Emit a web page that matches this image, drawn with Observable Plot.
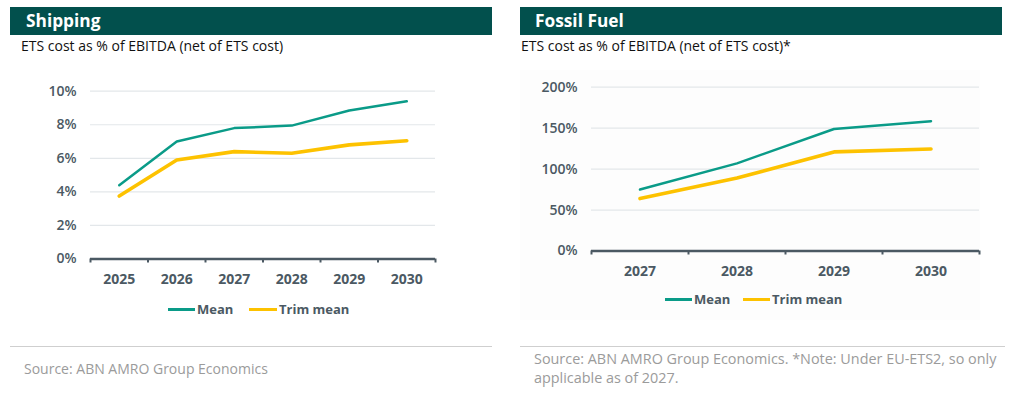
<!DOCTYPE html>
<html>
<head>
<meta charset="utf-8">
<script src="https://cdn.jsdelivr.net/npm/d3@7"></script>
<script src="https://cdn.jsdelivr.net/npm/@observablehq/plot@0.6"></script>
<style>
  html, body { margin: 0; padding: 0; background: #fff; }
  body { width: 1013px; height: 394px; position: relative; overflow: hidden; font-family: "Open Sans", "Noto Sans", sans-serif; }
  .bar { position: absolute; top: 7px; height: 28px; background: #02504d; color: #fff; font-weight: 700; font-size: 17.3px; line-height: 28px; box-sizing: border-box; }
  .sub { position: absolute; top: 37px; font-size: 14px; color: #111; line-height: 18px; }
  .chart { position: absolute; top: 60px; }
  .sep { position: absolute; top: 346px; height: 1px; background: #cfcfcf; }
  .src { position: absolute; font-size: 14px; color: #9b9b9b; line-height: 19px; white-space: nowrap; }
  .leg { position: absolute; font-size: 13px; font-weight: 700; color: #4b5963; line-height: 16px; white-space: nowrap; }
  .sw { position: absolute; height: 3px; }
  .bg { position: absolute; left: 520px; top: 70px; width: 460px; height: 250px; background: #fdfdfd; }
</style>
</head>
<body>
<div class="bar" style="left:10px;width:482px;padding-left:16px;">Shipping</div>
<div class="sub" style="left:21px;">ETS cost as % of EBITDA (net of ETS cost)</div>
<div class="bar" style="left:520px;width:482px;padding-left:15px;">Fossil Fuel</div>
<div class="sub" style="left:521px;">ETS cost as % of EBITDA (net of ETS cost)*</div>
<div class="bg"></div>
<div id="left" class="chart" style="left:0px;"></div>
<div id="right" class="chart" style="left:510px;"></div>

<div class="sw" style="left:168px;top:308px;width:27px;background:#0a9b88;"></div>
<div class="leg" style="left:197px;top:301px;">Mean</div>
<div class="sw" style="left:249px;top:308px;width:28px;background:#fdc200;"></div>
<div class="leg" style="left:279px;top:301px;">Trim mean</div>

<div class="sw" style="left:665px;top:298px;width:27px;background:#0a9b88;"></div>
<div class="leg" style="left:694px;top:291px;">Mean</div>
<div class="sw" style="left:743px;top:298px;width:27px;background:#fdc200;"></div>
<div class="leg" style="left:772px;top:291px;">Trim mean</div>

<div class="sep" style="left:10px;width:482px;"></div>
<div class="sep" style="left:520px;width:485px;"></div>
<div class="src" style="left:24px;top:359px;">Source: ABN AMRO Group Economics</div>
<div class="src" style="left:534px;top:349px;font-size:14.4px;">Source: ABN AMRO Group Economics. *Note: Under EU-ETS2, so only<br>applicable as of 2027.</div>

<script>
// ---- Data ----
const shippingYears = [2025, 2026, 2027, 2028, 2029, 2030];
const shippingMean  = [4.4, 7.0, 7.8, 7.95, 8.85, 9.4];
const shippingTrim  = [3.75, 5.9, 6.4, 6.3, 6.8, 7.05];
const shippingYTicks = [0, 2, 4, 6, 8, 10];

const fossilYears = [2027, 2028, 2029, 2030];
const fossilMean  = [75, 107, 149, 158.5];
const fossilTrim  = [64, 89, 121, 124.5];
const fossilYTicks = [0, 50, 100, 150, 200];

const seriesNames = ["Mean", "Trim mean"];
const seriesColors = ["#0a9b88", "#fdc200"];
const seriesWidths = [2.5, 3.6];

const axisColor = "#4b5963";
const gridColor = "#e3e7ea";

function table(years, mean, trim) {
  const rows = [];
  years.forEach((y, i) => rows.push({year: y, value: mean[i], series: seriesNames[0]}));
  years.forEach((y, i) => rows.push({year: y, value: trim[i], series: seriesNames[1]}));
  return rows;
}

function makeChart({years, mean, trim, yTicks, yMax, width, height, margins}) {
  const data = table(years, mean, trim);
  const bounds = [years[0] - 0.5, ...years.map(y => y + 0.5)];
  return Plot.plot({
    width, height,
    marginLeft: margins[0], marginRight: margins[1], marginTop: margins[2], marginBottom: margins[3],
    style: {fontFamily: "'Open Sans', 'Noto Sans', sans-serif", fontSize: "14px", background: "transparent", color: axisColor, overflow: "visible"},
    x: {domain: [years[0] - 0.5, years[years.length - 1] + 0.5]},
    y: {domain: [0, yMax]},
    marks: [
      Plot.gridY(yTicks.filter(t => t > 0), {stroke: gridColor, strokeOpacity: 1, strokeWidth: 1.2}),
      Plot.axisY(yTicks, {tickSize: 0, tickPadding: 14, label: null, tickFormat: d => d + "%", fontWeight: 600, fill: axisColor, fontSize: 14}),
      Plot.axisX(years, {tickSize: 0, tickPadding: 15, label: null, tickFormat: d => String(d), fontWeight: 700, fill: axisColor, fontSize: 14}),
      Plot.axisX(bounds, {tickSize: 4, tickFormat: () => "", label: null, stroke: axisColor, strokeWidth: 2}),
      Plot.ruleY([0], {stroke: axisColor, strokeWidth: 2.6}),
      ...seriesNames.map((s, i) => Plot.lineY(data.filter(d => d.series === s), {
        x: "year", y: "value", stroke: seriesColors[i], strokeWidth: seriesWidths[i], curve: "linear"
      }))
    ]
  });
}

document.getElementById("left").append(makeChart({
  years: shippingYears, mean: shippingMean, trim: shippingTrim, yTicks: shippingYTicks, yMax: 10,
  width: 492, height: 240, margins: [90, 57, 30.7, 41.5]
}));
document.getElementById("right").append(makeChart({
  years: fossilYears, mean: fossilMean, trim: fossilTrim, yTicks: fossilYTicks, yMax: 200,
  width: 503, height: 240, margins: [81, 34, 26.7, 49.5]
}));
</script>
</body>
</html>
